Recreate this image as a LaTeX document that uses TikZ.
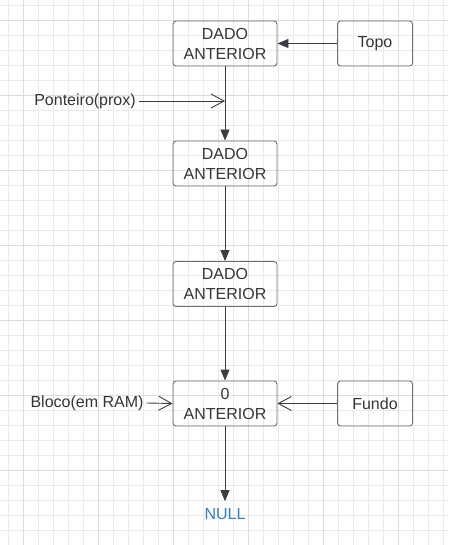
\documentclass[tikz,border=0pt]{standalone}
\usepackage{fontspec}
\setmainfont{Liberation Sans}
\usetikzlibrary{arrows.meta}
\definecolor{linha}{RGB}{58,61,68}
\definecolor{borda}{RGB}{110,110,112}
\definecolor{texto}{RGB}{51,53,58}
\definecolor{azulnull}{RGB}{43,125,224}
\definecolor{gridmenor}{RGB}{234,234,234}
\definecolor{gridmaior}{RGB}{220,220,220}
\tikzset{%
bloco/.style={draw=borda,line width=0.9pt,rounded corners=3pt,align=center,
              minimum width=104pt,minimum height=45pt,inner sep=0pt,
              text=texto,font=\fontsize{16}{20}\selectfont},
rotulo/.style={text=texto,font=\fontsize{16}{20}\selectfont,inner sep=3pt},
cheia/.style={draw=linha,line width=0.9pt,-{Triangle[length=11pt,width=9pt]}},
aberta/.style={draw=linha,line width=0.9pt,-{Straight Barb[length=13pt,width=14pt]}},
}

\begin{document}
\begin{tikzpicture}[x=1pt,y=-1pt]
\useasboundingbox (0,0) rectangle (448,545);

% grade
\foreach \x in {8,23,...,448} {\draw[gridmenor,line width=0.6pt] (\x,0) -- (\x,545);}
\foreach \y in {5,20,...,545} {\draw[gridmenor,line width=0.6pt] (0,\y) -- (448,\y);}
\foreach \x in {23,98,...,448} {\draw[gridmaior,line width=0.8pt] (\x,0) -- (\x,545);}
\foreach \y in {20,95,...,545} {\draw[gridmaior,line width=0.8pt] (0,\y) -- (448,\y);}

% pilha
\node[bloco] (dado1) at (225,43.5) {DADO\\ANTERIOR};
\node[bloco] (dado2) at (225,163.5) {DADO\\ANTERIOR};
\node[bloco] (dado3) at (225,284) {DADO\\ANTERIOR};
\node[bloco] (zero) at (225,403.5) {0\\ANTERIOR};

\node[bloco,minimum width=75pt] (topo) at (375,43.5) {Topo};
\node[bloco,minimum width=75pt] (fundo) at (375,403.5) {Fundo};

\node[rotulo] (ponteiro) at (85,101) {Ponteiro(prox)};
\node[rotulo] (ram) at (87,403) {Bloco(em RAM)};
\node[text=azulnull,font=\fontsize{16}{20}\selectfont,inner sep=7pt] (null) at (225,514) {NULL};
\coordinate (prox) at (225,101);

\draw[cheia] (topo) -- (dado1);
\draw[cheia] (dado1) -- (dado2);
\draw[cheia] (dado2) -- (dado3);
\draw[cheia] (dado3) -- (zero);
\draw[cheia] (zero) -- (null);

\draw[aberta] (ponteiro.east) -- (prox);
\draw[aberta] (ram.east) -- (zero.west);
\draw[aberta] (fundo) -- (zero);
\end{tikzpicture}
\end{document}
